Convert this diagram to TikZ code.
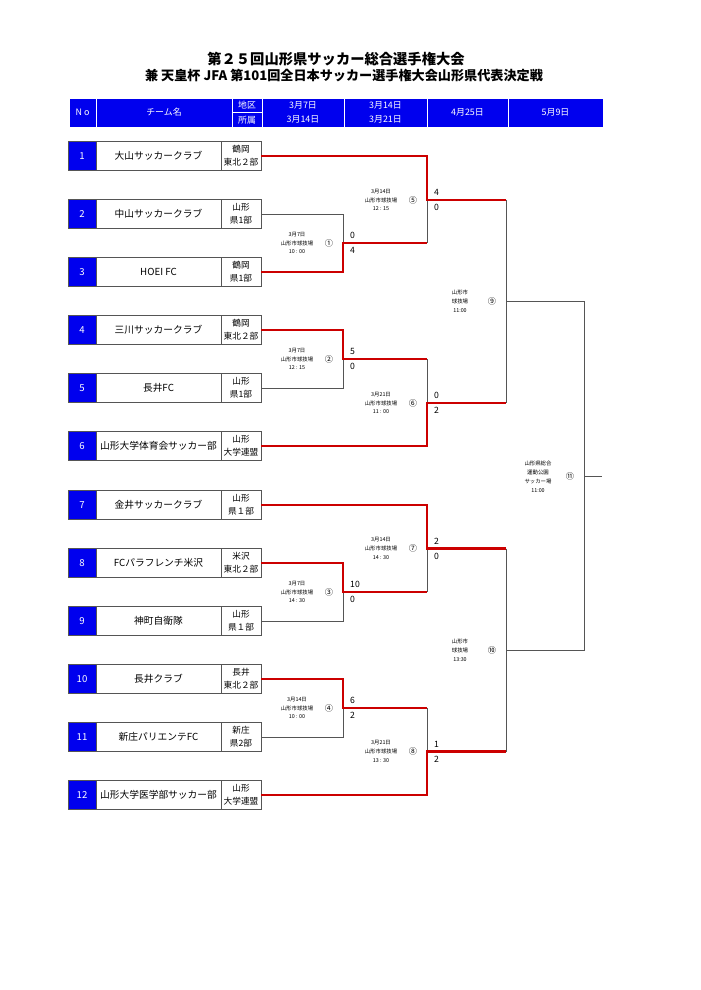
\documentclass[tikz,border=0pt]{standalone}
\usepackage{fontspec}
\setmainfont{Noto Sans CJK JP}
\usepackage{xcolor}
\usepackage{tikz}
\usetikzlibrary{positioning}
\definecolor{hdblue}{RGB}{0,0,238}
\definecolor{winred}{RGB}{204,0,0}
\definecolor{lngray}{RGB}{85,85,85}
\tikzset{
  cell/.style={draw=lngray, line width=0.7pt, minimum height=8.7mm, inner sep=0pt, outer sep=0pt, align=center},
  numcell/.style={cell, fill=hdblue, text=white, minimum width=8.4mm, font=\fontsize{8.2}{9}\selectfont},
  namecell/.style={cell, minimum width=37.5mm, font=\fontsize{8.3}{10}\selectfont},
  areacell/.style={cell, minimum width=12mm, font=\fontsize{7.4}{11}\selectfont},
  hdcell/.style={draw=white, fill=hdblue, line width=0.5pt},
  hdtext/.style={text=white, align=center, inner sep=0pt, font=\fontsize{7.6}{12.5}\selectfont},
  win/.style={draw=winred, line width=2.5pt},
  lose/.style={draw=lngray, line width=0.8pt},
  info/.style={align=center, inner sep=0pt, font=\fontsize{4.6}{7.6}\selectfont},
  matchno/.style={inner sep=0pt, font=\fontsize{7}{7}\selectfont},
  score/.style={anchor=west, inner sep=0pt, font=\fontsize{7.4}{7.4}\selectfont},
}

\begin{document}
\begin{tikzpicture}[x=0.3mm, y=-0.3mm]
                        \useasboundingbox (0,0) rectangle (700,990);
                        \node[font=\bfseries\fontsize{12.2}{14}\selectfont] (title) at (336,59) {第２５回山形県サッカー総合選手権大会};
                        \node[font=\bfseries\fontsize{11.2}{13}\selectfont] (subtitle) at (344,76) {兼 天皇杯 JFA 第101回全日本サッカー選手権大会山形県代表決定戦};
                        \foreach \a/\b/\c/\d/\txt/\nm in {69/98/96/127/N o/hno, 96/98/232/127/チーム名/hteam, 232/98/262/112.5/地区/harea, 232/112.5/262/127/所属/hleague, 262/98/344/127/{3月7日\\3月14日}/hr1, 344/98/427/127/{3月14日\\3月21日}/hr2, 427/98/508/127/4月25日/hr3, 508/98/603/127/5月9日/hr4}{
                            \draw[hdcell] (\a,\b) rectangle (\c,\d);
                            \node[hdtext] (\nm) at ({(\a+\c)/2},{(\b+\d)/2}) {\txt};
                        }
                        \foreach \n/\y/\team/\area/\league in {1/156/大山サッカークラブ/鶴岡/東北２部, 2/214/中山サッカークラブ/山形/県1部, 3/272/HOEI FC/鶴岡/県1部, 4/330/三川サッカークラブ/鶴岡/東北２部, 5/388/長井FC/山形/県1部, 6/446/山形大学体育会サッカー部/山形/大学連盟, 7/505/金井サッカークラブ/山形/県１部, 8/563/FCパラフレンチ米沢/米沢/東北２部, 9/621/神町自衛隊/山形/県１部, 10/679/長井クラブ/長井/東北２部, 11/737/新庄パリエンテFC/新庄/県2部, 12/795/山形大学医学部サッカー部/山形/大学連盟}{
                            \node[numcell] (no\n) at (82,\y) {\n};
                            \node[namecell, right=0pt of no\n] (t\n) {\team};
                            \node[areacell, right=0pt of t\n] (r\n) {\area\\\league};
                        }
                        \foreach \k/\x/\y in {1/343/243, 2/343/359, 3/343/592, 4/343/708, 5/427/200, 6/427/403, 7/427/548.5, 8/427/751.5, 9/506/301.5, 10/506/650, 11/584/476.5}
                            \coordinate (m\k) at (\x,\y);
                        \coordinate (champ) at (602,476.5);
                        \foreach \a/\b in {r2/m1, r5/m2, r9/m3, r11/m4}
                            \draw[lose] (\a.east) -| (\b);
                        \foreach \a/\b in {1/5, 2/6, 3/7, 4/8}
                            \draw[lose] (m\a -| m\b) -- (m\b);
                        \draw[lose] (m5 -| m9) -- (m6 -| m9);
                        \draw[lose] (m7 -| m10) -- (m8 -| m10);
                        \draw[lose] (m9) -| (m11) |- (m10);
                        \draw[lose] (m11) -- (champ);
                        \foreach \a/\b/\c in {r3/m1/m5, r4/m2/m6, r8/m3/m7, r10/m4/m8, r1/m5/m9, r6/m6/m9, r7/m7/m10, r12/m8/m10}
                            \draw[win] (\a.east) -| (\b) -- (\b -| \c);
                        \foreach \k/\c/\txt in {1/①/{3月7日\\山形市球技場\\10 : 00}, 2/②/{3月7日\\山形市球技場\\12 : 15}, 3/③/{3月7日\\山形市球技場\\14 : 30}, 4/④/{3月14日\\山形市球技場\\10 : 00}, 5/⑤/{3月14日\\山形市球技場\\12 : 15}, 6/⑥/{3月21日\\山形市球技場\\11 : 00}, 7/⑦/{3月14日\\山形市球技場\\14 : 30}, 8/⑧/{3月21日\\山形市球技場\\13 : 30}, 9/⑨/{山形市\\球技場\\11:00}, 10/⑩/{山形市\\球技場\\13:30}, 11/⑪/{山形県総合\\運動公園\\サッカー場\\11:00}}
                            \path (m\k) ++(-46,0) node[info] (i\k) {\txt} ++(32,0) node[matchno] (c\k) {\c};
                        \foreach \k/\a/\b in {1/0/4, 2/5/0, 3/10/0, 4/6/2, 5/4/0, 6/0/2, 7/2/0, 8/1/2}
                            \path (m\k) ++(7,-7.5) node[score] (sa\k) {\a} ++(0,15) node[score] (sb\k) {\b};
                    \end{tikzpicture}
\end{document}
